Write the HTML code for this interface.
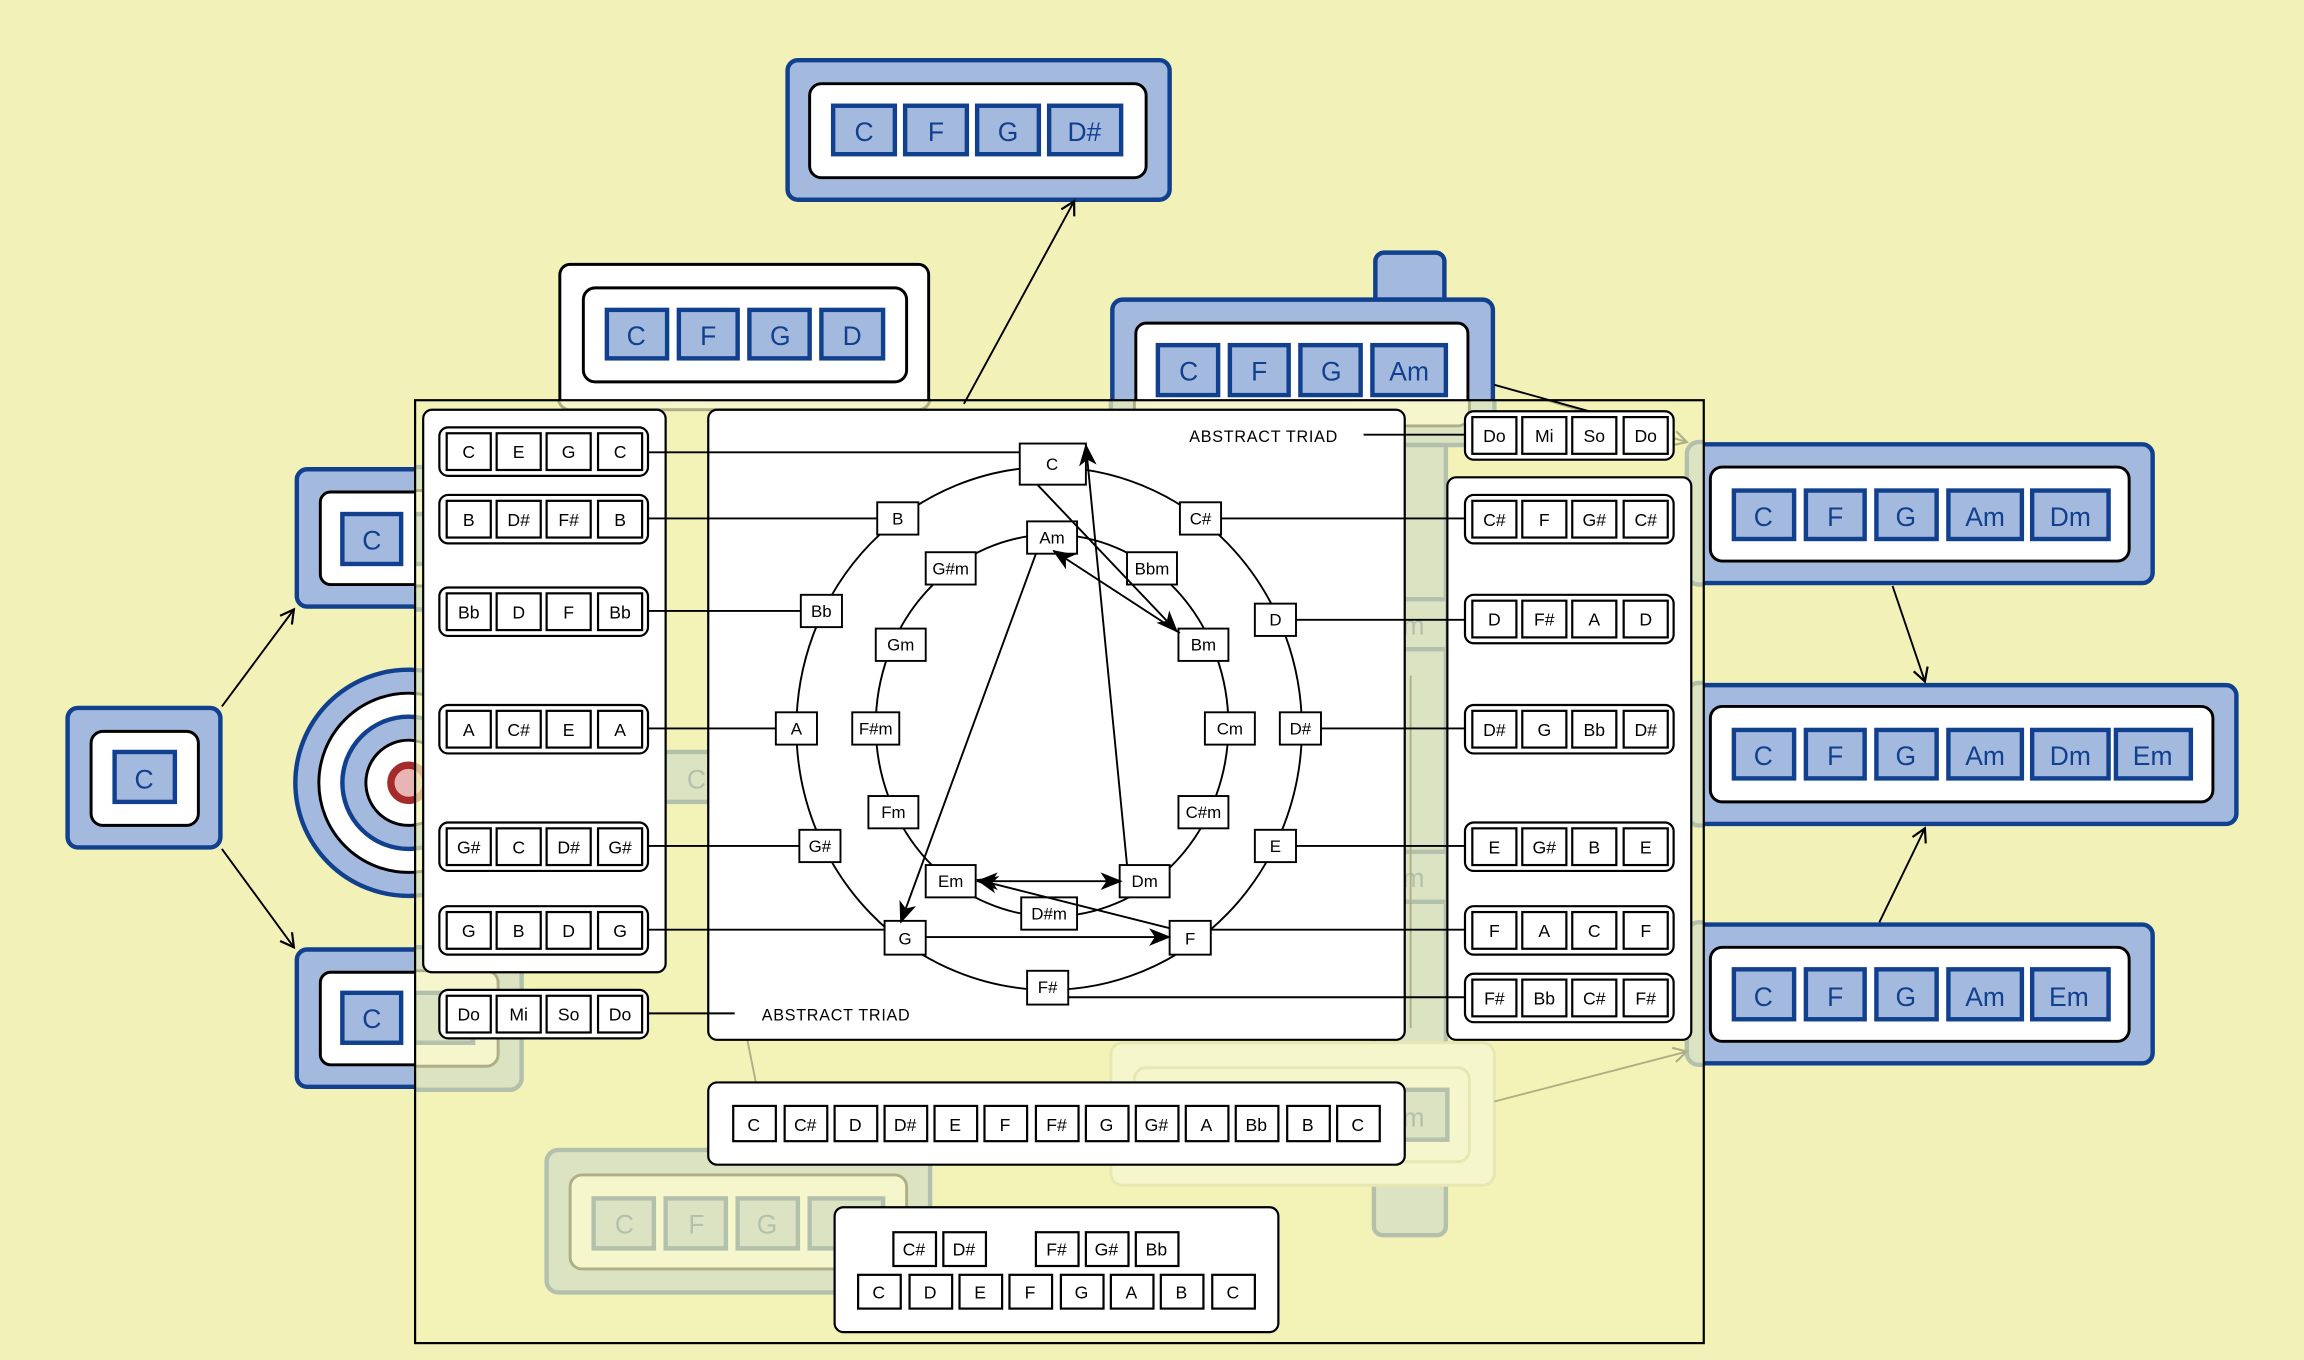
<!DOCTYPE html>
<html><head><meta charset="utf-8"><style>
html,body{margin:0;padding:0;background:#f2f2b8;}
svg{display:block;}
text{font-family:"Liberation Sans","DejaVu Sans",sans-serif;text-anchor:middle;}
.bo{fill:#a3b9dd;stroke:#10408e;stroke-width:3;}
.wi{fill:#fff;stroke:#000;stroke-width:2;}
.bc{fill:#a3b9dd;stroke:#10408e;stroke-width:3;}
.bt{fill:#10408e;font-size:18px;}
.grp{fill:#fff;stroke:#000;stroke-width:1.5;}
.ch{fill:#fff;stroke:#000;stroke-width:1.5;}
.ct{fill:#000;font-size:12px;}
.ln{stroke:#000;stroke-width:1.3;fill:none;}
.lb{fill:#fff;stroke:#000;stroke-width:1.3;}
.lt{fill:#000;font-size:11.5px;}
</style></head><body>
<svg width="2304" height="1360" viewBox="0 0 1568 926" preserveAspectRatio="none" xmlns="http://www.w3.org/2000/svg">
<defs>
<clipPath id="fr"><rect x="282" y="272" width="878" height="643"/></clipPath>
<clipPath id="lf"><rect x="0" y="0" width="282" height="926"/></clipPath>
<marker id="oa" markerWidth="12" markerHeight="12" refX="10" refY="6" orient="auto" markerUnits="userSpaceOnUse"><path d="M1,1 L10,6 L1,11" fill="none" stroke="#000" stroke-width="1.5"/></marker>
<marker id="fa" markerWidth="16" markerHeight="12" refX="14" refY="6" orient="auto" markerUnits="userSpaceOnUse"><path d="M0,0 L15,6 L0,12 L4,6 Z" fill="#000"/></marker>
<marker id="fs" markerWidth="16" markerHeight="12" refX="1" refY="6" orient="auto" markerUnits="userSpaceOnUse"><path d="M15,0 L0,6 L15,12 L11,6 Z" fill="#000"/></marker>
</defs>
<rect width="1568" height="926" fill="#f2f2b8"/>

<g clip-path="url(#fr)">
<rect x="935" y="171" width="49" height="670" rx="6" class="bo"/>
<rect x="756" y="203" width="261" height="100" rx="8" class="bo"/>
<rect x="772" y="220" width="228" height="70" rx="8" class="wi"/>
<rect x="380" y="179" width="253" height="100" rx="8" class="wi"/>
<rect x="201" y="318" width="154" height="97" rx="8" class="bo"/>
<rect x="217" y="334" width="122" height="65" rx="8" class="wi"/>
<rect x="282" y="350" width="40" height="34" class="bc"/>
<rect x="201" y="645" width="154" height="97" rx="8" class="bo"/>
<rect x="217" y="661" width="122" height="65" rx="8" class="wi"/>
<rect x="282" y="676" width="40" height="34" class="bc"/>
<rect x="440" y="512" width="60" height="34" class="bc"/><text x="474" y="537" class="bt">C</text>
<rect x="372" y="783" width="261" height="97" rx="8" class="bo"/>
<rect x="388" y="800" width="229" height="64" rx="8" class="wi"/>
<rect x="404" y="816" width="41" height="34" class="bc"/><text x="425" y="840" class="bt">C</text>
<rect x="453" y="816" width="41" height="34" class="bc"/><text x="474" y="840" class="bt">F</text>
<rect x="502" y="816" width="41" height="34" class="bc"/><text x="522" y="840" class="bt">G</text>
<rect x="551" y="816" width="50" height="34" class="bc"/>
<rect x="756" y="710" width="261" height="97" rx="8" fill="#fff" stroke="#c8c8a0" stroke-width="2"/>
<rect x="772" y="727" width="228" height="64" rx="8" fill="#fff" stroke="#c8c8a0" stroke-width="2"/>
<rect x="935" y="742" width="50" height="34" class="bc"/><text x="962" y="767" class="bt">m</text>
<rect x="935" y="408" width="50" height="34" class="bc"/><text x="962" y="432" class="bt">m</text>
<rect x="935" y="580" width="50" height="34" class="bc"/><text x="962" y="604" class="bt">m</text>
<rect x="1148" y="301" width="318" height="97" rx="8" class="bo"/>
<rect x="1148" y="465" width="375" height="97" rx="8" class="bo"/>
<rect x="1148" y="628" width="318" height="97" rx="8" class="bo"/>
<line x1="1017" y1="750" x2="1148" y2="716" class="ln" marker-end="url(#oa)"/>
<line x1="1017" y1="262" x2="1148" y2="301" class="ln" marker-end="url(#oa)"/>
<line x1="505" y1="690" x2="515" y2="740" class="ln"/>
<line x1="960" y1="460" x2="960" y2="700" class="ln"/>
<circle cx="278" cy="533" r="77" class="bo"/>
<circle cx="278" cy="533" r="61" fill="#fff" stroke="#000" stroke-width="2"/>
<circle cx="278" cy="533" r="45" class="bo"/>
<circle cx="278" cy="533" r="29" fill="#fff" stroke="#000" stroke-width="2"/>
<circle cx="278" cy="533" r="12" fill="#e8b4b4" stroke="#a52a2a" stroke-width="5"/>
</g>

<rect x="282" y="272" width="878" height="643" fill="#f2f2b8" opacity="0.72"/>

<!-- target circles, outside part -->
<g clip-path="url(#lf)">
<circle cx="278" cy="533" r="77" class="bo"/>
<circle cx="278" cy="533" r="61" fill="#fff" stroke="#000" stroke-width="2"/>
<circle cx="278" cy="533" r="45" class="bo"/>
<circle cx="278" cy="533" r="29" fill="#fff" stroke="#000" stroke-width="2"/>
<circle cx="278" cy="533" r="12" fill="#e8b4b4" stroke="#a52a2a" stroke-width="5"/>
</g>

<g>
<path d="M282,319.5 H209 a7,7 0 0 0 -7,7 V406 a7,7 0 0 0 7,7 H282" fill="#a3b9dd" stroke="#10408e" stroke-width="3"/>
<path d="M282,335 H225 a7,7 0 0 0 -7,7 V391 a7,7 0 0 0 7,7 H282" fill="#fff" stroke="#000" stroke-width="2"/>
<rect x="233" y="350" width="40" height="34" class="bc"/><text x="253" y="374" class="bt">C</text>
<path d="M282,646.5 H209 a7,7 0 0 0 -7,7 V733 a7,7 0 0 0 7,7 H282" fill="#a3b9dd" stroke="#10408e" stroke-width="3"/>
<path d="M282,662 H225 a7,7 0 0 0 -7,7 V718 a7,7 0 0 0 7,7 H282" fill="#fff" stroke="#000" stroke-width="2"/>
<rect x="233" y="676" width="40" height="34" class="bc"/><text x="253" y="700" class="bt">C</text>
<path d="M381,272 V187 a7,7 0 0 1 7,-7 H625 a7,7 0 0 1 7,7 V272" fill="#fff" stroke="#000" stroke-width="2"/>
<rect x="397" y="196" width="220" height="64" rx="8" class="wi"/>
<rect x="413" y="211" width="41" height="33" class="bc"/><text x="433" y="235" class="bt">C</text>
<rect x="462" y="211" width="40" height="33" class="bc"/><text x="482" y="235" class="bt">F</text>
<rect x="510" y="211" width="41" height="33" class="bc"/><text x="531" y="235" class="bt">G</text>
<rect x="559" y="211" width="42" height="33" class="bc"/><text x="580" y="235" class="bt">D</text>
<path d="M936,204 V178 a6,6 0 0 1 6,-6 H977 a6,6 0 0 1 6,6 V204 Z" fill="#a3b9dd" stroke="#10408e" stroke-width="3"/>
<path d="M757,272 V211 a7,7 0 0 1 7,-7 H1009 a7,7 0 0 1 7,7 V272 Z" fill="#a3b9dd"/>
<path d="M757,272 V211 a7,7 0 0 1 7,-7 H1009 a7,7 0 0 1 7,7 V272" fill="none" stroke="#10408e" stroke-width="3"/>
<path d="M773,272 V227 a7,7 0 0 1 7,-7 H992 a7,7 0 0 1 7,7 V272" fill="#fff" stroke="#000" stroke-width="2"/>
<rect x="788" y="235" width="41" height="34" class="bc"/><text x="809" y="259" class="bt">C</text>
<rect x="837" y="235" width="40" height="34" class="bc"/><text x="857" y="259" class="bt">F</text>
<rect x="885" y="235" width="41" height="34" class="bc"/><text x="906" y="259" class="bt">G</text>
<rect x="934" y="235" width="50" height="34" class="bc"/><text x="959" y="259" class="bt">Am</text>
<line x1="1017" y1="262" x2="1085" y2="281" class="ln"/>
</g>

<rect x="46" y="482" width="104" height="95" rx="7" class="bo"/>
<rect x="62" y="498" width="73" height="64" rx="8" class="wi"/>
<rect x="78" y="512" width="41" height="34" class="bc"/><text x="98" y="537" class="bt">C</text>
<line x1="151" y1="481" x2="200" y2="415" class="ln" marker-end="url(#oa)"/>
<line x1="151" y1="578" x2="200" y2="645" class="ln" marker-end="url(#oa)"/>

<rect x="536" y="41" width="260" height="95" rx="7" class="bo"/>
<rect x="551" y="57" width="229" height="64" rx="8" class="wi"/>
<rect x="567" y="72" width="42" height="33" class="bc"/><text x="588" y="96" class="bt">C</text>
<rect x="616" y="72" width="42" height="33" class="bc"/><text x="637" y="96" class="bt">F</text>
<rect x="665" y="72" width="42" height="33" class="bc"/><text x="686" y="96" class="bt">G</text>
<rect x="714" y="72" width="49" height="33" class="bc"/><text x="738" y="96" class="bt">D#</text>
<line x1="656" y1="275" x2="731" y2="137" class="ln" marker-end="url(#oa)"/>

<g>
<path d="M1160,302.5 H1458 a7,7 0 0 1 7,7 V390 a7,7 0 0 1 -7,7 H1160" fill="#a3b9dd" stroke="#10408e" stroke-width="3"/>
<rect x="1164" y="318" width="285" height="64" rx="8" class="wi"/>
<rect x="1180" y="334" width="41" height="33" class="bc"/><text x="1200" y="358" class="bt">C</text>
<rect x="1229" y="334" width="40" height="33" class="bc"/><text x="1249" y="358" class="bt">F</text>
<rect x="1277" y="334" width="41" height="33" class="bc"/><text x="1297" y="358" class="bt">G</text>
<rect x="1326" y="334" width="50" height="33" class="bc"/><text x="1351" y="358" class="bt">Am</text>
<rect x="1383" y="334" width="52" height="33" class="bc"/><text x="1409" y="358" class="bt">Dm</text>

<path d="M1160,466.5 H1515 a7,7 0 0 1 7,7 V554 a7,7 0 0 1 -7,7 H1160" fill="#a3b9dd" stroke="#10408e" stroke-width="3"/>
<rect x="1164" y="481" width="342" height="65" rx="8" class="wi"/>
<rect x="1180" y="497" width="41" height="33" class="bc"/><text x="1200" y="521" class="bt">C</text>
<rect x="1229" y="497" width="40" height="33" class="bc"/><text x="1249" y="521" class="bt">F</text>
<rect x="1277" y="497" width="41" height="33" class="bc"/><text x="1297" y="521" class="bt">G</text>
<rect x="1326" y="497" width="50" height="33" class="bc"/><text x="1351" y="521" class="bt">Am</text>
<rect x="1383" y="497" width="52" height="33" class="bc"/><text x="1409" y="521" class="bt">Dm</text>
<rect x="1440" y="497" width="51" height="33" class="bc"/><text x="1465" y="521" class="bt">Em</text>

<path d="M1160,629.5 H1458 a7,7 0 0 1 7,7 V717 a7,7 0 0 1 -7,7 H1160" fill="#a3b9dd" stroke="#10408e" stroke-width="3"/>
<rect x="1164" y="645" width="285" height="64" rx="8" class="wi"/>
<rect x="1180" y="660" width="41" height="34" class="bc"/><text x="1200" y="685" class="bt">C</text>
<rect x="1229" y="660" width="40" height="34" class="bc"/><text x="1249" y="685" class="bt">F</text>
<rect x="1277" y="660" width="41" height="34" class="bc"/><text x="1297" y="685" class="bt">G</text>
<rect x="1326" y="660" width="50" height="34" class="bc"/><text x="1351" y="685" class="bt">Am</text>
<rect x="1383" y="660" width="52" height="34" class="bc"/><text x="1408" y="685" class="bt">Em</text>
</g>
<line x1="1288" y1="399" x2="1310" y2="464" class="ln" marker-end="url(#oa)"/>
<line x1="1279" y1="628" x2="1310" y2="564" class="ln" marker-end="url(#oa)"/>

<rect x="282.5" y="272.5" width="877" height="642" fill="none" stroke="#000" stroke-width="1.5"/>

<rect x="288" y="279" width="165" height="383" rx="6" class="grp"/>
<g transform="translate(299,291)"><rect width="142" height="33" rx="6" class="grp"/><rect x="5" y="4" width="30" height="25" class="ch"/><text x="20" y="21" class="ct">C</text><rect x="39" y="4" width="30" height="25" class="ch"/><text x="54" y="21" class="ct">E</text><rect x="73" y="4" width="30" height="25" class="ch"/><text x="88" y="21" class="ct">G</text><rect x="108" y="4" width="30" height="25" class="ch"/><text x="123" y="21" class="ct">C</text></g>
<g transform="translate(299,337)"><rect width="142" height="33" rx="6" class="grp"/><rect x="5" y="4" width="30" height="25" class="ch"/><text x="20" y="21" class="ct">B</text><rect x="39" y="4" width="30" height="25" class="ch"/><text x="54" y="21" class="ct">D#</text><rect x="73" y="4" width="30" height="25" class="ch"/><text x="88" y="21" class="ct">F#</text><rect x="108" y="4" width="30" height="25" class="ch"/><text x="123" y="21" class="ct">B</text></g>
<g transform="translate(299,400)"><rect width="142" height="33" rx="6" class="grp"/><rect x="5" y="4" width="30" height="25" class="ch"/><text x="20" y="21" class="ct">Bb</text><rect x="39" y="4" width="30" height="25" class="ch"/><text x="54" y="21" class="ct">D</text><rect x="73" y="4" width="30" height="25" class="ch"/><text x="88" y="21" class="ct">F</text><rect x="108" y="4" width="30" height="25" class="ch"/><text x="123" y="21" class="ct">Bb</text></g>
<g transform="translate(299,480)"><rect width="142" height="33" rx="6" class="grp"/><rect x="5" y="4" width="30" height="25" class="ch"/><text x="20" y="21" class="ct">A</text><rect x="39" y="4" width="30" height="25" class="ch"/><text x="54" y="21" class="ct">C#</text><rect x="73" y="4" width="30" height="25" class="ch"/><text x="88" y="21" class="ct">E</text><rect x="108" y="4" width="30" height="25" class="ch"/><text x="123" y="21" class="ct">A</text></g>
<g transform="translate(299,560)"><rect width="142" height="33" rx="6" class="grp"/><rect x="5" y="4" width="30" height="25" class="ch"/><text x="20" y="21" class="ct">G#</text><rect x="39" y="4" width="30" height="25" class="ch"/><text x="54" y="21" class="ct">C</text><rect x="73" y="4" width="30" height="25" class="ch"/><text x="88" y="21" class="ct">D#</text><rect x="108" y="4" width="30" height="25" class="ch"/><text x="123" y="21" class="ct">G#</text></g>
<g transform="translate(299,617)"><rect width="142" height="33" rx="6" class="grp"/><rect x="5" y="4" width="30" height="25" class="ch"/><text x="20" y="21" class="ct">G</text><rect x="39" y="4" width="30" height="25" class="ch"/><text x="54" y="21" class="ct">B</text><rect x="73" y="4" width="30" height="25" class="ch"/><text x="88" y="21" class="ct">D</text><rect x="108" y="4" width="30" height="25" class="ch"/><text x="123" y="21" class="ct">G</text></g>
<g transform="translate(299,674)"><rect width="142" height="33" rx="6" class="grp"/><rect x="5" y="4" width="30" height="25" class="ch"/><text x="20" y="21" class="ct">Do</text><rect x="39" y="4" width="30" height="25" class="ch"/><text x="54" y="21" class="ct">Mi</text><rect x="73" y="4" width="30" height="25" class="ch"/><text x="88" y="21" class="ct">So</text><rect x="108" y="4" width="30" height="25" class="ch"/><text x="123" y="21" class="ct">Do</text></g>

<rect x="985" y="325" width="166" height="383" rx="6" class="grp"/>
<g transform="translate(997,280)"><rect width="142" height="33" rx="6" class="grp"/><rect x="5" y="4" width="30" height="25" class="ch"/><text x="20" y="21" class="ct">Do</text><rect x="39" y="4" width="30" height="25" class="ch"/><text x="54" y="21" class="ct">Mi</text><rect x="73" y="4" width="30" height="25" class="ch"/><text x="88" y="21" class="ct">So</text><rect x="108" y="4" width="30" height="25" class="ch"/><text x="123" y="21" class="ct">Do</text></g>
<g transform="translate(997,337)"><rect width="142" height="33" rx="6" class="grp"/><rect x="5" y="4" width="30" height="25" class="ch"/><text x="20" y="21" class="ct">C#</text><rect x="39" y="4" width="30" height="25" class="ch"/><text x="54" y="21" class="ct">F</text><rect x="73" y="4" width="30" height="25" class="ch"/><text x="88" y="21" class="ct">G#</text><rect x="108" y="4" width="30" height="25" class="ch"/><text x="123" y="21" class="ct">C#</text></g>
<g transform="translate(997,405)"><rect width="142" height="33" rx="6" class="grp"/><rect x="5" y="4" width="30" height="25" class="ch"/><text x="20" y="21" class="ct">D</text><rect x="39" y="4" width="30" height="25" class="ch"/><text x="54" y="21" class="ct">F#</text><rect x="73" y="4" width="30" height="25" class="ch"/><text x="88" y="21" class="ct">A</text><rect x="108" y="4" width="30" height="25" class="ch"/><text x="123" y="21" class="ct">D</text></g>
<g transform="translate(997,480)"><rect width="142" height="33" rx="6" class="grp"/><rect x="5" y="4" width="30" height="25" class="ch"/><text x="20" y="21" class="ct">D#</text><rect x="39" y="4" width="30" height="25" class="ch"/><text x="54" y="21" class="ct">G</text><rect x="73" y="4" width="30" height="25" class="ch"/><text x="88" y="21" class="ct">Bb</text><rect x="108" y="4" width="30" height="25" class="ch"/><text x="123" y="21" class="ct">D#</text></g>
<g transform="translate(997,560)"><rect width="142" height="33" rx="6" class="grp"/><rect x="5" y="4" width="30" height="25" class="ch"/><text x="20" y="21" class="ct">E</text><rect x="39" y="4" width="30" height="25" class="ch"/><text x="54" y="21" class="ct">G#</text><rect x="73" y="4" width="30" height="25" class="ch"/><text x="88" y="21" class="ct">B</text><rect x="108" y="4" width="30" height="25" class="ch"/><text x="123" y="21" class="ct">E</text></g>
<g transform="translate(997,617)"><rect width="142" height="33" rx="6" class="grp"/><rect x="5" y="4" width="30" height="25" class="ch"/><text x="20" y="21" class="ct">F</text><rect x="39" y="4" width="30" height="25" class="ch"/><text x="54" y="21" class="ct">A</text><rect x="73" y="4" width="30" height="25" class="ch"/><text x="88" y="21" class="ct">C</text><rect x="108" y="4" width="30" height="25" class="ch"/><text x="123" y="21" class="ct">F</text></g>
<g transform="translate(997,663)"><rect width="142" height="33" rx="6" class="grp"/><rect x="5" y="4" width="30" height="25" class="ch"/><text x="20" y="21" class="ct">F#</text><rect x="39" y="4" width="30" height="25" class="ch"/><text x="54" y="21" class="ct">Bb</text><rect x="73" y="4" width="30" height="25" class="ch"/><text x="88" y="21" class="ct">C#</text><rect x="108" y="4" width="30" height="25" class="ch"/><text x="123" y="21" class="ct">F#</text></g>

<rect x="482" y="279" width="474" height="429" rx="6" class="grp"/>
<text x="860" y="301" class="lt" style="font-size:11px;letter-spacing:0.5px">ABSTRACT TRIAD</text>
<text x="569" y="695" class="lt" style="font-size:11px;letter-spacing:0.5px">ABSTRACT TRIAD</text>
<line x1="928" y1="296" x2="997" y2="296" class="ln"/>
<line x1="441" y1="690" x2="500" y2="690" class="ln"/>

<ellipse cx="714" cy="496" rx="172" ry="178" class="ln"/>
<ellipse cx="716" cy="494" rx="120" ry="130" class="ln"/>

<line x1="441" y1="308" x2="694" y2="308" class="ln"/>
<line x1="441" y1="353" x2="597" y2="353" class="ln"/>
<line x1="441" y1="416" x2="545" y2="416" class="ln"/>
<line x1="441" y1="496" x2="528" y2="496" class="ln"/>
<line x1="441" y1="576" x2="544" y2="576" class="ln"/>
<line x1="441" y1="633" x2="602" y2="633" class="ln"/>
<line x1="831" y1="353" x2="997" y2="353" class="ln"/>
<line x1="882" y1="422" x2="997" y2="422" class="ln"/>
<line x1="899" y1="496" x2="997" y2="496" class="ln"/>
<line x1="882" y1="576" x2="997" y2="576" class="ln"/>
<line x1="824" y1="633" x2="997" y2="633" class="ln"/>
<line x1="727" y1="679" x2="997" y2="679" class="ln"/>

<rect x="694" y="302" width="45" height="28" class="lb"/><text x="716" y="320" class="lt">C</text>
<rect x="597" y="342" width="28" height="22" class="lb"/><text x="611" y="357" class="lt">B</text>
<rect x="803" y="342" width="28" height="22" class="lb"/><text x="817" y="357" class="lt">C#</text>
<rect x="545" y="405" width="28" height="22" class="lb"/><text x="559" y="420" class="lt">Bb</text>
<rect x="854" y="411" width="28" height="22" class="lb"/><text x="868" y="426" class="lt">D</text>
<rect x="528" y="485" width="28" height="22" class="lb"/><text x="542" y="500" class="lt">A</text>
<rect x="871" y="485" width="28" height="22" class="lb"/><text x="885" y="500" class="lt">D#</text>
<rect x="544" y="565" width="28" height="22" class="lb"/><text x="558" y="580" class="lt">G#</text>
<rect x="854" y="565" width="28" height="22" class="lb"/><text x="868" y="580" class="lt">E</text>
<rect x="602" y="627" width="28" height="23" class="lb"/><text x="616" y="643" class="lt">G</text>
<rect x="796" y="627" width="28" height="23" class="lb"/><text x="810" y="643" class="lt">F</text>
<rect x="699" y="661" width="28" height="23" class="lb"/><text x="713" y="676" class="lt">F#</text>
<rect x="699" y="355" width="34" height="22" class="lb"/><text x="716" y="370" class="lt">Am</text>
<rect x="630" y="376" width="34" height="22" class="lb"/><text x="647" y="391" class="lt">G#m</text>
<rect x="767" y="376" width="34" height="22" class="lb"/><text x="784" y="391" class="lt">Bbm</text>
<rect x="596" y="428" width="34" height="22" class="lb"/><text x="613" y="443" class="lt">Gm</text>
<rect x="802" y="428" width="34" height="22" class="lb"/><text x="819" y="443" class="lt">Bm</text>
<rect x="580" y="485" width="32" height="22" class="lb"/><text x="596" y="500" class="lt">F#m</text>
<rect x="820" y="485" width="34" height="22" class="lb"/><text x="837" y="500" class="lt">Cm</text>
<rect x="591" y="542" width="34" height="22" class="lb"/><text x="608" y="557" class="lt">Fm</text>
<rect x="802" y="542" width="34" height="22" class="lb"/><text x="819" y="557" class="lt">C#m</text>
<rect x="630" y="589" width="34" height="22" class="lb"/><text x="647" y="604" class="lt">Em</text>
<rect x="762" y="589" width="34" height="22" class="lb"/><text x="779" y="604" class="lt">Dm</text>
<rect x="695" y="611" width="38" height="22" class="lb"/><text x="714" y="626" class="lt">D#m</text>

<line x1="706" y1="330" x2="801" y2="430" class="ln" marker-end="url(#fa)"/>
<line x1="803" y1="431" x2="717" y2="375" class="ln" marker-end="url(#fa)"/>
<line x1="767" y1="589" x2="739" y2="303" class="ln" marker-end="url(#fa)"/>
<line x1="705" y1="377" x2="613" y2="628" class="ln" marker-end="url(#fa)"/>
<line x1="665" y1="600" x2="763" y2="600" class="ln" marker-start="url(#fs)" marker-end="url(#fa)"/>
<line x1="796" y1="632" x2="665" y2="599" class="ln" marker-end="url(#fa)"/>
<line x1="630" y1="638" x2="796" y2="638" class="ln" marker-end="url(#fa)"/>

<rect x="482" y="737" width="474" height="56" rx="6" class="grp"/>
<g class="ct">
<rect x="499" y="753" width="29" height="24" class="ch"/><text x="513" y="770">C</text>
<rect x="534" y="753" width="29" height="24" class="ch"/><text x="548" y="770">C#</text>
<rect x="568" y="753" width="29" height="24" class="ch"/><text x="582" y="770">D</text>
<rect x="602" y="753" width="29" height="24" class="ch"/><text x="616" y="770">D#</text>
<rect x="636" y="753" width="29" height="24" class="ch"/><text x="650" y="770">E</text>
<rect x="670" y="753" width="29" height="24" class="ch"/><text x="684" y="770">F</text>
<rect x="705" y="753" width="29" height="24" class="ch"/><text x="719" y="770">F#</text>
<rect x="739" y="753" width="29" height="24" class="ch"/><text x="753" y="770">G</text>
<rect x="773" y="753" width="29" height="24" class="ch"/><text x="787" y="770">G#</text>
<rect x="807" y="753" width="29" height="24" class="ch"/><text x="821" y="770">A</text>
<rect x="841" y="753" width="29" height="24" class="ch"/><text x="855" y="770">Bb</text>
<rect x="876" y="753" width="29" height="24" class="ch"/><text x="890" y="770">B</text>
<rect x="910" y="753" width="29" height="24" class="ch"/><text x="924" y="770">C</text>
</g>

<rect x="568" y="822" width="302" height="85" rx="6" class="grp"/>
<g class="ct">
<rect x="608" y="839" width="29" height="23" class="ch"/><text x="622" y="855">C#</text>
<rect x="642" y="839" width="29" height="23" class="ch"/><text x="656" y="855">D#</text>
<rect x="705" y="839" width="29" height="23" class="ch"/><text x="719" y="855">F#</text>
<rect x="739" y="839" width="29" height="23" class="ch"/><text x="753" y="855">G#</text>
<rect x="773" y="839" width="29" height="23" class="ch"/><text x="787" y="855">Bb</text>
<rect x="584" y="868" width="29" height="23" class="ch"/><text x="598" y="884">C</text>
<rect x="619" y="868" width="29" height="23" class="ch"/><text x="633" y="884">D</text>
<rect x="653" y="868" width="29" height="23" class="ch"/><text x="667" y="884">E</text>
<rect x="687" y="868" width="29" height="23" class="ch"/><text x="701" y="884">F</text>
<rect x="722" y="868" width="29" height="23" class="ch"/><text x="736" y="884">G</text>
<rect x="756" y="868" width="29" height="23" class="ch"/><text x="770" y="884">A</text>
<rect x="790" y="868" width="29" height="23" class="ch"/><text x="804" y="884">B</text>
<rect x="825" y="868" width="29" height="23" class="ch"/><text x="839" y="884">C</text>
</g>
</svg>
</body></html>
